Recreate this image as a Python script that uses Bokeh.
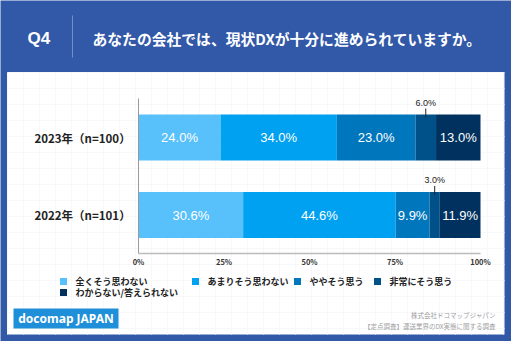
import numpy as np
from bokeh.plotting import figure
from bokeh.models import Range1d, ColumnDataSource
from bokeh.core.properties import value
from bokeh.embed import file_html
from bokeh.resources import INLINE

# ---------------- data ----------------
categories = ["2023年（n=100）", "2022年（n=101）"]
series_names = ["全くそう思わない", "あまりそう思わない", "ややそう思う", "非常にそう思う", "わからない/答えられない"]
values_2023 = [24.0, 34.0, 23.0, 6.0, 13.0]
values_2022 = [30.6, 44.6, 9.9, 3.0, 11.9]
colors = ["#58c0fb", "#00a1f0", "#0077bd", "#00508a", "#00315f"]
ticks = [0, 25, 50, 75, 100]
tick_labels = ["0%", "25%", "50%", "75%", "100%"]
title_q = "Q4"
title_text = "あなたの会社では、現状DXが十分に進められていますか。"
logo_text = "docomap JAPAN"
source_lines = ["株式会社ドコマップジャパン", "【定点調査】運送業界のDX実態に関する調査"]

JP = value("Noto Sans CJK JP")
LAT = value("Liberation Sans")
W, H = 511, 341
BLUE = "#3258a8"

p = figure(width=W, height=H, output_backend="svg", toolbar_location=None,
           x_range=Range1d(0, W), y_range=Range1d(H, 0),
           x_axis_location=None, y_axis_location=None, min_border=0,
           background_fill_color=BLUE, border_fill_color=BLUE)
p.grid.visible = False
p.outline_line_color = None

# data ranges: percent (x) and category row (y)
px0, px1 = 138.0, 480.0
k = (px1 - px0) / 100.0
p.extra_x_ranges = {"pct": Range1d(-px0 / k, (W - px0) / k)}
row_px = [137.0, 214.5]
ky = row_px[1] - row_px[0]
p.extra_y_ranges = {"cat": Range1d(1 + (H - row_px[1]) / ky, -row_px[0] / ky)}

# ---------------- decoration ----------------
p.quad(left=7, right=504, top=72, bottom=334, fill_color="white", line_color=None)
for gx in np.arange(7, 504, 16):
    p.segment(x0=gx, x1=gx, y0=72, y1=334, line_color="#f7f8fa", line_width=1)
for gy in np.arange(72, 334, 16):
    p.segment(x0=7, x1=504, y0=gy, y1=gy, line_color="#f7f8fa", line_width=1)

p.text(x=[27], y=[38], text=[title_q], text_font=LAT, text_font_size="17px",
       text_font_style="bold", text_color="white", text_baseline="middle")
p.segment(x0=[72], x1=[72], y0=[15], y1=[57], line_color="#7390cc", line_width=1)
p.text(x=[92], y=[38], text=[title_text], text_font=JP, text_font_size="14.8px",
       text_font_style="bold", text_color="white", text_baseline="middle")

# ---------------- bars ----------------
bar_h = 46.0 / ky
rows = [values_2023, values_2022]
for ri, vals in enumerate(rows):
    vals = np.array(vals)
    right = np.cumsum(vals)
    left = right - vals
    mid = (left + right) / 2
    src = ColumnDataSource(dict(y=[ri] * len(vals), left=left, right=right, color=colors))
    p.hbar(y="y", left="left", right="right", height=bar_h, fill_color="color", line_color=None,
           source=src, x_range_name="pct", y_range_name="cat")
    big = vals >= 8
    p.text(x=list(mid[big]), y=[ri] * int(big.sum()),
           text=[f"{v:.1f}%" for v in vals[big]], text_font=LAT, text_font_size="13px",
           text_color="white", text_align="center", text_baseline="middle",
           x_range_name="pct", y_range_name="cat")
    small = ~big
    n_s = int(small.sum())
    top = ri - bar_h / 2
    p.segment(x0=list(mid[small]), x1=list(mid[small]),
              y0=[top - 6 / ky] * n_s, y1=[top + 3 / ky] * n_s,
              line_color="#222222", line_width=1, x_range_name="pct", y_range_name="cat")
    p.text(x=list(mid[small]), y=[top - 12 / ky] * n_s,
           text=[f"{v:.1f}%" for v in vals[small]], text_font=LAT, text_font_size="9px",
           text_color="#222222", text_align="center", text_baseline="middle",
           x_range_name="pct", y_range_name="cat")

# category labels
p.text(x=[-2.3] * len(categories), y=list(range(len(categories))), text=categories,
       text_font=JP, text_font_size="11.5px", text_font_style="bold", text_color="#222222",
       text_align="right", text_baseline="middle", x_range_name="pct", y_range_name="cat")

# axes
p.segment(x0=[0], x1=[0], y0=[98], y1=[253], line_color="#9a9a9a", line_width=1, x_range_name="pct")
p.segment(x0=[0], x1=[100], y0=[253], y1=[253], line_color="#bbbbbb", line_width=1.5, x_range_name="pct")
p.text(x=ticks, y=[261] * len(ticks), text=tick_labels, text_font=JP, text_font_size="7.5px",
       text_font_style="bold", text_color="#333333", text_align="center", text_baseline="middle",
       x_range_name="pct")

# legend
leg_x = [63, 195, 297, 377, 63]
leg_y = [281, 281, 281, 281, 292]
p.rect(x=leg_x, y=leg_y, width=7, height=7, fill_color=colors, line_color=None)
p.text(x=[x + 12 for x in leg_x], y=leg_y, text=series_names, text_font=JP, text_font_size="9px",
       text_font_style="bold", text_color="#222222", text_baseline="middle")

# logo & source
p.quad(left=13, right=118, top=308, bottom=328, fill_color="#1e8fd8", line_color=None)
p.text(x=[65.5], y=[318], text=[logo_text], text_font=value("Noto Sans"), text_font_size="12px",
       text_font_style="bold", text_color="white", text_align="center", text_baseline="middle")
p.text(x=[495, 495], y=[314, 325], text=source_lines, text_font=JP, text_font_size="6.5px",
       text_color="#a0a0a0", text_align="right", text_baseline="middle")

open("out.html", "w").write(file_html(p, INLINE))
